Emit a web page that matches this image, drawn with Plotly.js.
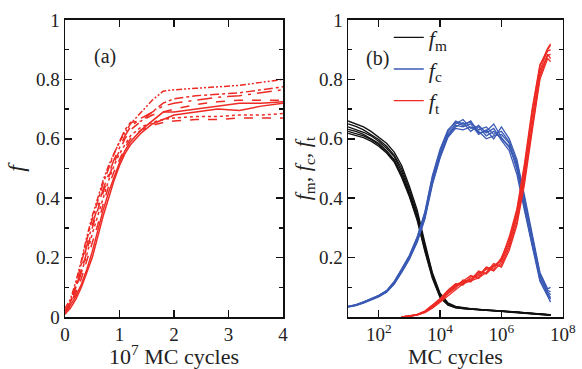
<!DOCTYPE html>
<html>
<head>
<meta charset="utf-8">
<script src="https://cdn.plot.ly/plotly-3.0.1.min.js"></script>
<style>html,body{margin:0;padding:0;background:#fff;}#chart{width:582px;height:369px;}
#chart text{font-family:"Liberation Serif" !important;}</style>
</head>
<body>
<div id="chart"></div>
<script>
// ---------- Panel (a): f vs 10^7 MC cycles ----------
const xA = [0, 0.1, 0.2, 0.3, 0.4, 0.5, 0.6, 0.7, 0.8, 0.9, 1.0, 1.1, 1.2, 1.4, 1.6, 1.8, 2.0, 2.4, 2.8, 3.2, 3.6, 4.0];
const runA1 = [0.03,0.06,0.12,0.19,0.27,0.34,0.40,0.46,0.51,0.55,0.59,0.62,0.65,0.69,0.73,0.76,0.765,0.77,0.775,0.78,0.79,0.80];
const runA2 = [0.02,0.05,0.11,0.18,0.26,0.33,0.39,0.45,0.50,0.55,0.59,0.63,0.655,0.66,0.69,0.72,0.735,0.745,0.75,0.755,0.765,0.775];
const runA3 = [0.02,0.05,0.10,0.16,0.24,0.31,0.37,0.43,0.48,0.53,0.57,0.61,0.64,0.67,0.69,0.71,0.72,0.73,0.74,0.745,0.755,0.765];
const runA4 = [0.01,0.04,0.09,0.15,0.22,0.30,0.36,0.42,0.47,0.52,0.56,0.60,0.63,0.66,0.68,0.69,0.70,0.715,0.725,0.73,0.73,0.73];
const runA5 = [0.02,0.04,0.07,0.11,0.16,0.22,0.29,0.36,0.42,0.47,0.52,0.56,0.59,0.63,0.66,0.69,0.69,0.70,0.71,0.72,0.72,0.725];
const runA6 = [0.01,0.03,0.06,0.10,0.15,0.20,0.27,0.34,0.40,0.46,0.51,0.55,0.58,0.62,0.65,0.665,0.68,0.69,0.70,0.695,0.71,0.72];
const runA7 = [0.02,0.05,0.10,0.15,0.21,0.28,0.34,0.40,0.46,0.51,0.55,0.58,0.61,0.64,0.655,0.665,0.67,0.675,0.675,0.68,0.68,0.685];
const runA8 = [0.01,0.04,0.08,0.13,0.19,0.25,0.31,0.38,0.44,0.49,0.53,0.57,0.60,0.63,0.645,0.655,0.66,0.665,0.665,0.67,0.67,0.67];
const runsA = [runA1, runA2, runA3, runA4, runA5, runA6, runA7, runA8];
const dashesA = ["6px,2px,2px,2px,2px,2px", "dashdot", "longdashdot", "dash", "solid", "solid", "dot", "dash"];

// ---------- Panel (b): fm, fc, ft vs MC cycles (log) ----------
const xB = [10, 18, 32, 56, 100, 180, 320, 560, 1000, 1800, 3200, 5600, 1e4, 1.8e4, 3.2e4, 5.6e4, 1e5, 1.8e5, 3.2e5, 5.6e5, 1e6, 1.8e6, 3.2e6, 5.6e6, 1e7, 1.8e7, 3.2e7, 4e7];
const fm1 = [0.660,0.650,0.640,0.625,0.605,0.585,0.555,0.510,0.440,0.360,0.250,0.150,0.080,0.048,0.036,0.031,0.028,0.026,0.024,0.023,0.022,0.020,0.018,0.016,0.013,0.011,0.009,0.008];
const fm2 = [0.650,0.642,0.630,0.615,0.598,0.575,0.545,0.500,0.430,0.350,0.240,0.145,0.075,0.045,0.034,0.030,0.027,0.025,0.023,0.022,0.021,0.019,0.017,0.015,0.012,0.010,0.008,0.007];
const fm3 = [0.640,0.632,0.622,0.610,0.592,0.568,0.540,0.490,0.420,0.340,0.230,0.140,0.072,0.043,0.033,0.029,0.027,0.025,0.024,0.022,0.021,0.019,0.017,0.014,0.012,0.010,0.008,0.007];
const fm4 = [0.632,0.625,0.615,0.600,0.585,0.560,0.530,0.480,0.410,0.330,0.225,0.135,0.068,0.042,0.032,0.028,0.026,0.024,0.023,0.021,0.020,0.018,0.016,0.014,0.011,0.009,0.007,0.006];
const fm5 = [0.625,0.618,0.610,0.598,0.580,0.556,0.528,0.478,0.415,0.338,0.235,0.142,0.070,0.044,0.034,0.030,0.027,0.026,0.024,0.023,0.021,0.020,0.018,0.015,0.012,0.010,0.008,0.007];
const fm6 = [0.618,0.612,0.604,0.592,0.575,0.552,0.522,0.470,0.405,0.325,0.220,0.130,0.065,0.040,0.031,0.028,0.025,0.024,0.022,0.021,0.020,0.018,0.016,0.013,0.011,0.009,0.007,0.006];

const fc1 = [0.035,0.040,0.049,0.060,0.072,0.088,0.118,0.160,0.205,0.268,0.350,0.470,0.560,0.625,0.660,0.650,0.655,0.630,0.640,0.615,0.625,0.590,0.520,0.400,0.270,0.140,0.085,0.075];
const fc2 = [0.034,0.039,0.048,0.058,0.070,0.085,0.114,0.155,0.200,0.262,0.342,0.462,0.552,0.618,0.650,0.665,0.635,0.640,0.610,0.625,0.600,0.575,0.505,0.385,0.255,0.125,0.075,0.060];
const fc3 = [0.036,0.041,0.050,0.061,0.071,0.086,0.116,0.156,0.202,0.258,0.338,0.455,0.545,0.612,0.645,0.640,0.650,0.615,0.630,0.600,0.640,0.600,0.530,0.410,0.285,0.150,0.095,0.100];
const fc4 = [0.035,0.040,0.050,0.059,0.069,0.084,0.112,0.152,0.196,0.255,0.335,0.450,0.540,0.608,0.640,0.655,0.625,0.645,0.620,0.635,0.595,0.560,0.480,0.360,0.235,0.120,0.070,0.050];
const fc5 = [0.033,0.038,0.047,0.057,0.068,0.083,0.111,0.150,0.195,0.252,0.330,0.445,0.535,0.605,0.635,0.630,0.640,0.625,0.600,0.610,0.615,0.585,0.495,0.370,0.245,0.135,0.080,0.065];
const fc6 = [0.036,0.042,0.051,0.062,0.073,0.089,0.120,0.162,0.208,0.270,0.355,0.475,0.565,0.630,0.655,0.645,0.660,0.620,0.625,0.650,0.605,0.570,0.515,0.395,0.265,0.145,0.090,0.085];

const N = null;
const ft1 = [N,N,N,N,N,N,N,0.000,0.003,0.008,0.018,0.036,0.058,0.085,0.105,0.118,0.128,0.145,0.160,0.170,0.190,0.250,0.345,0.490,0.670,0.830,0.900,0.915];
const ft2 = [N,N,N,N,N,N,N,0.000,0.002,0.007,0.016,0.032,0.052,0.078,0.098,0.125,0.118,0.150,0.148,0.175,0.175,0.235,0.320,0.460,0.640,0.810,0.880,0.885];
const ft3 = [N,N,N,N,N,N,N,0.000,0.003,0.009,0.020,0.040,0.062,0.090,0.112,0.108,0.135,0.138,0.168,0.160,0.200,0.260,0.355,0.500,0.690,0.845,0.905,0.920];
const ft4 = [N,N,N,N,N,N,N,0.000,0.002,0.006,0.015,0.030,0.050,0.072,0.092,0.112,0.122,0.132,0.150,0.180,0.168,0.225,0.310,0.445,0.625,0.800,0.870,0.860];
const ft5 = [N,N,N,N,N,N,N,0.000,0.003,0.008,0.019,0.038,0.060,0.088,0.108,0.120,0.140,0.130,0.165,0.155,0.185,0.245,0.335,0.475,0.655,0.820,0.885,0.870];
const ft6 = [N,N,N,N,N,N,N,0.000,0.002,0.007,0.017,0.034,0.055,0.082,0.102,0.115,0.125,0.155,0.145,0.170,0.195,0.270,0.365,0.515,0.700,0.850,0.895,0.900];

const seriesNames = ["<i>f</i><sub>m</sub>", "<i>f</i><sub>c</sub>", "<i>f</i><sub>t</sub>"];
const seriesColors = ["#111111", "#3a5ab4", "#ee2a24"];
const seriesRuns = [[fm1,fm2,fm3,fm4,fm5,fm6],[fc1,fc2,fc3,fc4,fc5,fc6],[ft1,ft2,ft3,ft4,ft5,ft6]];

const xTickA = [0,1,2,3,4];
const xTickB = [100, 1e4, 1e6, 1e8];
const xTickBText = ["10<sup>2</sup>", "10<sup>4</sup>", "10<sup>6</sup>", "10<sup>8</sup>"];
const yTickB = [0.2, 0.4, 0.6, 0.8, 1];

const RED = "#ee2a24";
const traces = [];
runsA.forEach((r, i) => {
  traces.push({x: xA, y: r, xaxis: "x", yaxis: "y", type: "scatter", mode: "lines",
    line: {color: RED, width: 1.5, dash: dashesA[i]}, showlegend: false});
});
seriesRuns.forEach((runs, s) => {
  runs.forEach((r, i) => {
    traces.push({x: xB, y: r, xaxis: "x2", yaxis: "y2", type: "scatter", mode: "lines",
      name: seriesNames[s], line: {color: seriesColors[s], width: 1.3},
      showlegend: i === 0});
  });
});

const FONT = "Liberation Serif";
const tf = (size) => ({family: FONT, size: size, color: "#222"});
function ax(extra) {
  return Object.assign({
    showline: true, linecolor: "#111", linewidth: 1.5, mirror: "allticks",
    ticks: "inside", ticklen: 7, tickwidth: 1.5, tickcolor: "#111",
    showgrid: false, zeroline: false, tickfont: tf(19)
  }, extra);
}

const layout = {
  width: 582, height: 369,
  margin: {l: 0, r: 0, t: 0, b: 0},
  font: tf(19),
  xaxis: ax({domain: [0.1117, 0.4863], range: [0, 4], tickvals: xTickA,
    title: {text: "10<sup>7</sup> MC cycles", font: tf(22), standoff: 6}}),
  yaxis: ax({domain: [0.1409, 0.9458], range: [0, 1], dtick: 0.2,
    minor: {dtick: 0.1, ticks: "inside", ticklen: 4},
    title: {text: "<i>f</i>", font: tf(24), standoff: 4}}),
  xaxis2: ax({domain: [0.598, 0.967], type: "log", range: [1, 8], anchor: "y2",
    tickvals: xTickB, ticktext: xTickBText,
    title: {text: "MC cycles", font: tf(22), standoff: 2}}),
  yaxis2: ax({domain: [0.1409, 0.9458], range: [0, 1], anchor: "x2", tickvals: yTickB,
    minor: {dtick: 0.1, ticks: "inside", ticklen: 4},
    title: {text: "<i>f</i><sub>m</sub>, <i>f</i><sub>c</sub>, <i>f</i><sub>t</sub>", font: tf(22), standoff: 2}}),
  showlegend: true,
  legend: {x: 0.668, y: 0.955, xanchor: "left", yanchor: "top", bgcolor: "rgba(0,0,0,0)",
    font: tf(22), borderwidth: 0},
  annotations: [
    {text: "(a)", xref: "paper", yref: "paper", x: 92/582, y: 1 - 43/369, showarrow: false, font: tf(20)},
    {text: "(b)", xref: "paper", yref: "paper", x: 377/582, y: 1 - 45/369, showarrow: false, font: tf(20)}
  ]
};

Plotly.newPlot("chart", traces, layout, {staticPlot: true});
</script>
</body>
</html>
